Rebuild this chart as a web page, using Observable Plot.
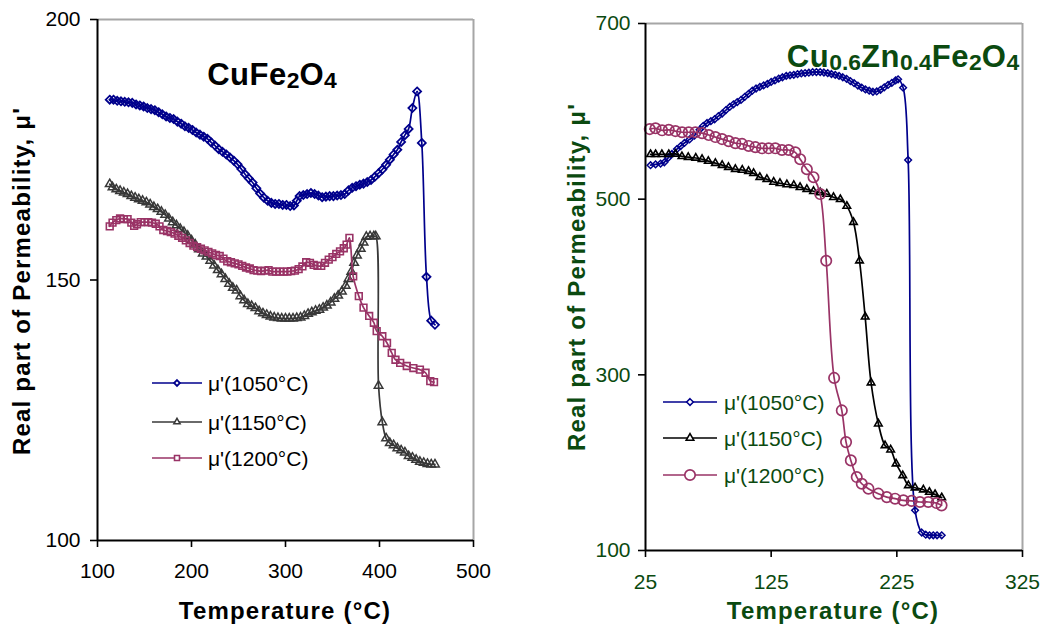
<!DOCTYPE html>
<html><head><meta charset="utf-8">
<script src="https://cdn.jsdelivr.net/npm/d3@7"></script>
<script src="https://cdn.jsdelivr.net/npm/@observablehq/plot@0.6"></script>
<style>
body{margin:0;background:#fff;}
#wrap{position:relative;width:1045px;height:630px;overflow:hidden;font-family:"Liberation Sans",Arial,sans-serif;background:#fff;}
.abs{position:absolute;white-space:nowrap;line-height:1;}
.panel{position:absolute;top:0;}
.atitle{font-weight:bold;font-size:24px;letter-spacing:1.2px;}
.ctitle{font-weight:bold;font-size:31px;letter-spacing:0.5px;}
.ctitle sub{font-size:0.74em;vertical-align:baseline;position:relative;top:0.14em;letter-spacing:0;}
.leg{font-size:21px;}
#right g[aria-label="x-axis tick label"], #right g[aria-label="y-axis tick label"]{fill:#0b4a10;}
</style></head><body><div id="wrap"></div>
<script>
// ---------- Left panel: CuFe2O4 ----------
const L1050_T = [113,117,121,125,129,133,137,141,145,149,153,157,161,165,169,173,177,181,185,189,193,197,201,205,209,213,217,221,225,229,233,237,241,245,249,253,257,261,265,269,273,277,281,285,289,293,297,301,305,309,312,315,319,323,327,331,335,339,343,347,351,355,359,363,367,371,375,379,383,387,391,395,399,403,407,411,415,419,423,427,431,435,440,445,450,455,459];
const L1050_mu = [184.6,184.6,184.4,184.3,184.2,184.1,184.0,183.7,183.5,183.3,183.0,182.8,182.6,182.2,181.8,181.4,181.1,180.9,180.4,180.0,179.5,179.2,178.8,178.3,177.9,177.5,177.1,176.4,175.8,175.1,174.6,174.1,173.5,172.9,172.2,171.3,170.3,169.5,168.7,167.6,166.6,165.8,165.2,164.8,164.6,164.6,164.4,164.4,164.2,164.3,165.2,166.1,166.3,166.5,166.7,166.5,166.2,165.9,166.0,166.1,166.1,166.2,166.3,166.5,167.2,167.7,168.0,168.3,168.5,168.8,169.2,169.8,170.5,171.2,172.1,173.1,174.1,175.0,176.5,177.8,179.0,183.0,186.2,176.3,150.6,142.2,141.4];

const L1150_T = [113,116,120,124,128,132,136,140,144,148,152,156,160,164,168,172,176,180,184,188,192,196,200,204,208,212,216,220,224,228,232,236,240,244,248,252,256,260,264,268,272,276,280,284,288,292,296,300,304,308,312,316,320,324,328,332,336,340,344,348,352,356,360,364,367,370,373,376,380,383,386,390,394,396,399,403,407,411,415,419,423,427,431,435,439,443,447,451,455,459];
const L1150_mu = [168.4,167.8,167.4,167.1,166.8,166.5,166.1,165.8,165.5,165.2,164.9,164.5,164.0,163.6,163.1,162.5,161.8,161.1,160.5,159.8,159.2,158.5,157.6,156.8,155.9,155.1,154.5,153.7,152.8,151.9,151.1,150.2,149.3,148.5,148.0,146.9,146.1,145.4,145.0,144.6,144.0,143.6,143.3,143.0,142.8,142.7,142.6,142.6,142.6,142.6,142.7,142.8,143.1,143.5,143.8,144.1,144.3,144.7,145.1,145.7,146.4,147.0,147.8,148.9,150.2,151.6,153.3,154.7,156.0,157.2,158.3,158.4,158.4,158.4,129.7,122.7,119.6,118.7,118.3,117.7,117.3,116.9,116.2,115.9,115.5,115.1,114.9,114.7,114.6,114.6];

const L1200_T = [113,116,120,124,128,132,136,139,142,146,150,154,158,162,166,170,174,178,182,186,190,194,198,202,206,210,214,218,222,226,230,234,238,242,246,250,254,258,262,266,270,274,278,282,286,290,294,298,302,306,310,314,318,322,326,330,334,338,342,346,350,354,358,362,365,368,372,378,383,389,394,397,403,408,413,417,422,429,436,443,449,454,458];
const L1200_mu = [160.3,161.0,161.5,161.8,161.7,161.7,161.0,160.4,160.7,161.1,161.1,161.1,161.0,160.8,160.3,159.6,159.4,159.2,158.9,158.5,158.1,157.6,157.1,156.6,156.3,156.0,155.7,155.4,155.1,154.8,154.6,154.1,153.6,153.4,153.2,153.0,152.7,152.4,152.2,151.9,151.8,151.7,151.8,151.9,151.6,151.6,151.6,151.6,151.6,151.7,151.8,152.1,152.6,153.4,153.3,152.9,152.7,152.7,153.3,153.9,154.4,155.0,155.5,156.1,156.8,158.1,150.7,146.9,144.7,143.1,141.8,140.2,139.2,137.9,136.0,134.7,134.1,133.5,133.1,132.8,132.2,130.6,130.4];

const L_xTicks = [100,200,300,400,500];
const L_yTicks = [100,150,200];

// ---------- Right panel: Cu0.6Zn0.4Fe2O4 ----------
const R1050_T = [29,33,37,40,43,46,50,53,56,60,64,68,71,74,77,80,83,86,89,92,95,98,101,104,107,110,113,116,119,122,125,128,131,134,137,140,143,146,149,152,155,158,161,164,167,170,173,176,179,182,185,188,191,194,197,200,203,206,209,212,215,218,221,224,226,230,234,239.5,244.8,248,251,254,257,260.7];
const R1050_mu = [538.7,539.6,540.5,542,547,551.5,557,560.5,564,568,572.5,579,583.5,586.7,588.8,591,594.5,597.5,601.5,605,608,610.5,613,616.5,620,623.5,626,627.8,629.5,631.2,633.5,635.2,637.2,638.8,640.3,641,641.6,642.4,643.1,643.6,644,644.6,644.7,644.7,644.2,643.5,642.5,641.5,640.3,638.8,637,634.5,632,629.3,627,625,623.5,622.3,622.6,624.5,627.3,630,632.4,635.2,636.5,626.9,544.6,145.7,120.5,118,117.3,117.3,117.3,117.3];

const R1150_T = [29,33,38,43.5,49,54,59,65,70,75,80.6,86,91,96.5,102,107,111,116,121.6,127,132,137.5,143,148,153.4,158.7,164,169.3,174.6,180,185.2,190.5,195.3,199.8,204.5,210.3,215.6,220.1,224.4,229.7,234.2,239.5,246.1,250.9,255.4,260.7];
const R1150_mu = [551,551,551,551,551.5,548.7,547.8,546.9,545.5,543.3,541,538.7,536.4,534.1,533.2,531.8,529.5,525,522.7,519.5,518.1,516.7,515.8,513.5,511.3,509,507.6,505.8,502.1,499.8,492.1,473.8,429.9,366,291,244.3,219.6,214.7,198.8,185.5,174.1,171.5,169.2,166.5,163.9,160.2];

const R1200_T = [28.4,33,38.2,43.5,48.8,54.1,59.4,64.7,70,75.3,80.6,85.9,91.2,96.5,101.8,107.1,112.4,117.7,123,128.3,133.6,138.9,144.2,148.1,153.4,158.7,164,168.8,175.1,181.2,184.6,188.4,193.1,197.1,202.4,210.3,217,223.6,230.2,236.8,243.4,250,256.6,260.6];
const R1200_mu = [579.8,580.7,578.4,578.9,577.5,576.2,576.2,576.2,575.2,573,570.7,568.4,566.1,563.8,562.9,560.6,559.2,557.9,557.9,557.9,556,556,553.3,545.5,534.1,525,505.8,429.9,296.5,259.5,223.4,202.6,183.6,176,170.4,164.7,160.8,159,157.1,156.5,155.2,155.2,154,151.4];

const R_xTicks = [25,125,225,325];
const R_yTicks = [100,300,500,700];

const legendNames = ["μ'(1050°C)","μ'(1150°C)","μ'(1200°C)"];

const table = (T, mu) => T.map((t, i) => ({T: t, mu: mu[i]})).filter(d => d.mu != null);

const leftSeries = [
  {data: table(L1050_T, L1050_mu), color: "#00008c", symbol: "diamond2", r: 3.6, sw: 1.8, lr: 2.6},
  {data: table(L1150_T, L1150_mu), color: "#383838", symbol: "triangle2", r: 4.1, sw: 1.5, lr: 3.0},
  {data: table(L1200_T, L1200_mu), color: "#993366", symbol: "square", r: 3.8, sw: 1.6, lr: 2.8}
];
const rightSeries = [
  {data: table(R1050_T, R1050_mu), color: "#00008c", symbol: "diamond2", r: 3.0, sw: 1.5, lr: 3.0},
  {data: table(R1150_T, R1150_mu), color: "#000000", symbol: "triangle2", r: 3.6, sw: 1.6, lr: 3.6},
  {data: table(R1200_T, R1200_mu), color: "#993366", symbol: "circle", r: 5.2, sw: 1.7, lr: 5.2}
];

function seriesMarks(series) {
  const m = [];
  for (const s of series) {
    m.push(Plot.line(s.data, {x: "T", y: "mu", stroke: s.color, strokeWidth: 1.7, curve: "catmull-rom"}));
    m.push(Plot.dot(s.data, {x: "T", y: "mu", symbol: s.symbol, r: s.r, stroke: s.color, fill: "none", strokeWidth: s.sw}));
  }
  return m;
}

function panel(opts) {
  const {width, mL, mR, mT, mB, xDom, yDom, xTicks, yTicks, series, padX, padY} = opts;
  return Plot.plot({
    width, height: 630,
    marginLeft: mL, marginRight: mR, marginTop: mT, marginBottom: mB,
    x: {domain: xDom}, y: {domain: yDom},
    style: {fontFamily: '"Liberation Sans", Arial, sans-serif', fontSize: "21px", color: "#000", background: "transparent", overflow: "visible"},
    marks: [
      Plot.ruleY([yDom[1]], {stroke: "#a6a6a6", strokeWidth: 2}),
      Plot.ruleX([xDom[1]], {stroke: "#a6a6a6", strokeWidth: 2}),
      ...seriesMarks(series),
      Plot.axisX({ticks: xTicks, tickSize: 7, tickPadding: padX, label: null, strokeWidth: 1.6, tickFormat: d => String(d)}),
      Plot.axisY({ticks: yTicks, tickSize: 7, tickPadding: padY, label: null, strokeWidth: 1.6, tickFormat: d => String(d)}),
      Plot.ruleX([xDom[0]], {stroke: "#000", strokeWidth: 2}),
      Plot.ruleY([yDom[0]], {stroke: "#000", strokeWidth: 2})
    ]
  });
}

const wrap = document.getElementById("wrap");

const leftDiv = document.createElement("div");
leftDiv.className = "panel"; leftDiv.id = "left"; leftDiv.style.left = "0px";
leftDiv.appendChild(panel({width: 540, mL: 97, mR: 67, mT: 19, mB: 90, xDom: [100,500], yDom: [100,200], xTicks: L_xTicks, yTicks: L_yTicks, series: leftSeries, padX: 16, padY: 10}));
wrap.appendChild(leftDiv);

const rightDiv = document.createElement("div");
rightDiv.className = "panel"; rightDiv.id = "right"; rightDiv.style.left = "540px";
rightDiv.appendChild(panel({width: 505, mL: 105, mR: 23, mT: 23, mB: 80, xDom: [25,325], yDom: [100,700], xTicks: R_xTicks, yTicks: R_yTicks, series: rightSeries, padX: 17, padY: 8}));
wrap.appendChild(rightDiv);

function addText(html, cls, x, y, color, rotate) {
  const d = document.createElement("div");
  d.className = "abs " + cls;
  d.innerHTML = html;
  d.style.left = x + "px"; d.style.top = y + "px"; d.style.color = color;
  d.style.transform = "translate(-50%,-50%)" + (rotate ? " rotate(-90deg)" : "");
  wrap.appendChild(d);
}
const green = "#0b4a10";
addText("Real part of Permeability, μ'", "atitle", 22, 281, "#000", true);
addText("Temperature (°C)", "atitle", 285, 611, "#000");
addText("CuFe<sub>2</sub>O<sub>4</sub>", "ctitle", 272, 74, "#000");
addText("Real part of Permeability, μ'", "atitle", 577, 277, green, true);
addText("Temperature (°C)", "atitle", 833, 611, green);
addText("Cu<sub>0.6</sub>Zn<sub>0.4</sub>Fe<sub>2</sub>O<sub>4</sub>", "ctitle", 903, 56, green);

const symMap = {diamond2: d3.symbolDiamond2, triangle2: d3.symbolTriangle2, square: d3.symbolSquare, circle: d3.symbolCircle};
function addLegend(series, x0, len, tx, ys, textColor) {
  series.forEach((s, i) => {
    const ns = "http://www.w3.org/2000/svg";
    const svg = document.createElementNS(ns, "svg");
    svg.setAttribute("width", len + 10); svg.setAttribute("height", 24);
    svg.style.position = "absolute"; svg.style.left = (x0 - 5) + "px"; svg.style.top = (ys[i] - 12) + "px"; svg.style.overflow = "visible";
    const ln = document.createElementNS(ns, "line");
    ln.setAttribute("x1", 5); ln.setAttribute("x2", len + 5); ln.setAttribute("y1", 12); ln.setAttribute("y2", 12);
    ln.setAttribute("stroke", s.color); ln.setAttribute("stroke-width", 1.7);
    svg.appendChild(ln);
    const p = document.createElementNS(ns, "path");
    p.setAttribute("d", d3.symbol(symMap[s.symbol], s.lr * s.lr * Math.PI)());
    p.setAttribute("transform", `translate(${5 + len / 2},12)`);
    p.setAttribute("fill", "#fff"); p.setAttribute("stroke", s.color); p.setAttribute("stroke-width", s.sw);
    svg.appendChild(p);
    wrap.appendChild(svg);
    const t = document.createElement("div");
    t.className = "abs leg"; t.textContent = legendNames[i];
    t.style.left = tx + "px"; t.style.top = ys[i] + "px"; t.style.color = textColor; t.style.transform = "translateY(-50%)";
    wrap.appendChild(t);
  });
}
addLegend(leftSeries, 152, 50, 208, [383, 422, 458], "#000");
addLegend(rightSeries, 663, 54, 724, [402, 438, 475], green);
</script></body></html>
